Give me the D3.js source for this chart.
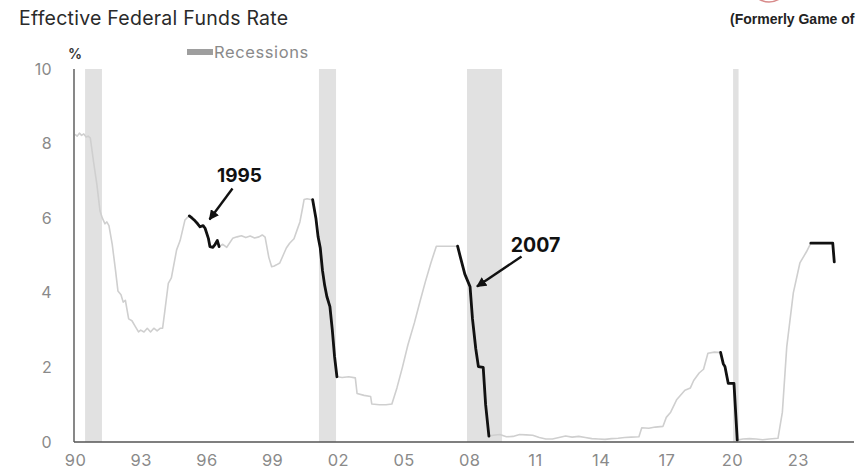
<!DOCTYPE html>
<html>
<head>
<meta charset="utf-8">
<script src="https://cdn.jsdelivr.net/npm/d3@7"></script>
<style>
  html, body { margin: 0; padding: 0; background: #fff; }
  svg { display: block; font-family: Inter, "Open Sans", sans-serif; }
</style>
</head>
<body>
<svg id="chart" width="857" height="471"></svg>
<script>
// effective fed funds rate (decimal year, %)
const rateDates = [
  1990.00, 1990.10, 1990.20, 1990.30, 1990.40, 1990.50, 1990.60, 1990.70, 1990.85, 1991.00,
  1991.14, 1991.25, 1991.37, 1991.45, 1991.55, 1991.70, 1991.85, 1991.96, 1992.10, 1992.20,
  1992.30, 1992.45, 1992.60, 1992.75, 1992.90, 1993.00, 1993.15, 1993.30, 1993.45, 1993.60,
  1993.75, 1993.90, 1994.00, 1994.10, 1994.26, 1994.40, 1994.64, 1994.80, 1995.02, 1995.10,
  1995.22, 1995.35, 1995.48, 1995.60, 1995.71, 1995.85, 1995.94, 1996.09, 1996.16, 1996.30,
  1996.40, 1996.50, 1996.58, 1996.75, 1996.93, 1997.20, 1997.40, 1997.60, 1997.80, 1998.00,
  1998.20, 1998.40, 1998.55, 1998.68, 1998.85, 1998.98, 1999.10, 1999.20, 1999.35, 1999.50,
  1999.65, 1999.80, 2000.00, 2000.15, 2000.27, 2000.40, 2000.46, 2000.60, 2000.75, 2000.85,
  2001.00, 2001.10, 2001.20, 2001.30, 2001.40, 2001.50, 2001.64, 2001.75, 2001.85, 2001.96,
  2002.20, 2002.50, 2002.80, 2002.88, 2003.20, 2003.50, 2003.55, 2003.90, 2004.20, 2004.47,
  2004.70, 2004.95, 2005.20, 2005.50, 2005.75, 2006.00, 2006.25, 2006.50, 2006.80, 2007.10,
  2007.47, 2007.60, 2007.80, 2008.04, 2008.15, 2008.30, 2008.42, 2008.64, 2008.75, 2008.90,
  2009.10, 2009.40, 2009.70, 2010.00, 2010.30, 2010.60, 2010.90, 2011.20, 2011.50, 2011.80,
  2012.10, 2012.40, 2012.70, 2013.00, 2013.30, 2013.60, 2013.90, 2014.20, 2014.50, 2014.80,
  2015.10, 2015.40, 2015.75, 2015.88, 2016.20, 2016.50, 2016.85, 2017.00, 2017.20, 2017.47,
  2017.85, 2018.10, 2018.25, 2018.50, 2018.70, 2018.90, 2019.20, 2019.48, 2019.60, 2019.68,
  2019.83, 2020.09, 2020.24, 2020.50, 2020.80, 2021.10, 2021.40, 2021.70, 2022.10, 2022.30,
  2022.50, 2022.80, 2023.10, 2023.40, 2023.60, 2024.00, 2024.60, 2024.67
];
const rateValues = [
  8.25, 8.20, 8.28, 8.22, 8.26, 8.18, 8.20, 8.15, 7.50, 6.90,
  6.20, 6.00, 5.85, 5.90, 5.80, 5.30, 4.60, 4.05, 3.95, 3.75,
  3.80, 3.30, 3.25, 3.10, 2.95, 3.00, 2.95, 3.05, 2.95, 3.05,
  2.98, 3.05, 3.05, 3.50, 4.25, 4.40, 5.15, 5.40, 5.95, 6.00,
  6.06, 6.00, 5.93, 5.85, 5.77, 5.80, 5.73, 5.46, 5.24, 5.22,
  5.30, 5.40, 5.24, 5.30, 5.22, 5.46, 5.50, 5.53, 5.48, 5.52,
  5.47, 5.50, 5.55, 5.49, 4.95, 4.70, 4.72, 4.75, 4.80, 5.00,
  5.20, 5.33, 5.45, 5.70, 5.90, 6.30, 6.50, 6.52, 6.50, 6.50,
  6.00, 5.50, 5.20, 4.60, 4.20, 3.90, 3.63, 3.00, 2.30, 1.75,
  1.73, 1.75, 1.72, 1.30, 1.25, 1.22, 1.02, 1.00, 1.00, 1.02,
  1.45, 2.00, 2.60, 3.20, 3.76, 4.30, 4.80, 5.25, 5.25, 5.25,
  5.25, 4.95, 4.50, 4.16, 3.30, 2.50, 2.02, 2.00, 1.00, 0.16,
  0.18, 0.20, 0.14, 0.15, 0.20, 0.19, 0.18, 0.12, 0.08, 0.08,
  0.12, 0.16, 0.13, 0.15, 0.12, 0.09, 0.08, 0.07, 0.09, 0.10,
  0.12, 0.13, 0.14, 0.38, 0.37, 0.40, 0.42, 0.66, 0.80, 1.13,
  1.39, 1.45, 1.65, 1.85, 1.95, 2.38, 2.41, 2.40, 2.10, 2.02,
  1.57, 1.57, 0.05, 0.08, 0.09, 0.08, 0.06, 0.08, 0.10, 0.80,
  2.55, 4.00, 4.80, 5.10, 5.33, 5.33, 5.33, 4.83
];

// easing cycles drawn in black
const cutStart = [1995.22, 2000.85, 2007.47, 2019.48, 2023.60];
const cutEnd   = [1996.58, 2001.96, 2008.90, 2020.24, 2024.67];

// recessions (shaded)
const recessionStart = [1990.46, 2001.14, 2007.90, 2020.05];
const recessionEnd   = [1991.23, 2001.92, 2009.50, 2020.30];

const xTickYears = [1990, 1993, 1996, 1999, 2002, 2005, 2008, 2011, 2014, 2017, 2020, 2023];
const yTicks = [0, 2, 4, 6, 8, 10];

const annoLabels = ['1995', '2007'];

const svg = d3.select('#chart');

const x = d3.scaleLinear().domain([1990, 2025]).range([75, 841.5]);
const y = d3.scaleLinear().domain([0, 10]).range([442, 69]);

const series = rateDates.map((d, i) => ({ t: d, v: rateValues[i] }));

// recession bars
svg.append('g').selectAll('rect')
  .data(recessionStart.map((s, i) => [s, recessionEnd[i]]))
  .enter().append('rect')
  .attr('x', d => x(d[0]))
  .attr('width', d => x(d[1]) - x(d[0]))
  .attr('y', y(10))
  .attr('height', y(0) - y(10))
  .attr('fill', '#e1e1e1');

const line = d3.line().x(d => x(d.t)).y(d => y(d.v));

svg.append('path')
  .datum(series)
  .attr('d', line)
  .attr('fill', 'none')
  .attr('stroke', '#cfcfcf')
  .attr('stroke-width', 1.6)
  .attr('stroke-linejoin', 'round');

cutStart.forEach((s, i) => {
  const seg = series.filter(d => d.t >= s - 1e-6 && d.t <= cutEnd[i] + 1e-6);
  svg.append('path')
    .datum(seg)
    .attr('d', line)
    .attr('fill', 'none')
    .attr('stroke', '#111')
    .attr('stroke-width', 2.8)
    .attr('stroke-linejoin', 'round')
    .attr('stroke-linecap', 'round');
});

// axes
const xAxis = svg.append('g')
  .attr('transform', `translate(0,${y(0)})`)
  .call(d3.axisBottom(x).tickValues(xTickYears).tickSize(0).tickPadding(12)
    .tickFormat(d => String(d).slice(2)));
xAxis.select('.domain').remove();
xAxis.selectAll('text')
  .attr('font-family', 'Inter, sans-serif')
  .attr('font-size', 16.5)
  .attr('letter-spacing', 0.4)
  .attr('fill', '#8a8a8a');

const yAxis = svg.append('g')
  .attr('transform', 'translate(52,0)')
  .call(d3.axisLeft(y).tickValues(yTicks).tickSize(0).tickPadding(0));
yAxis.select('.domain').remove();
yAxis.selectAll('text')
  .attr('font-family', 'Inter, sans-serif')
  .attr('font-size', 16)
  .attr('letter-spacing', 0.3)
  .attr('fill', '#8a8a8a');

svg.append('line')
  .attr('x1', 74).attr('x2', 854)
  .attr('y1', y(0)).attr('y2', y(0))
  .attr('stroke', '#555').attr('stroke-width', 1.4);
svg.append('line')
  .attr('x1', 74).attr('x2', 74)
  .attr('y1', y(10)).attr('y2', y(0))
  .attr('stroke', '#555').attr('stroke-width', 1.4);

// title and labels
svg.append('text')
  .attr('x', 19).attr('y', 25)
  .attr('font-size', 19.5)
  .attr('letter-spacing', 0.25)
  .attr('fill', '#2a2a2a')
  .text('Effective Federal Funds Rate');

svg.append('text')
  .attr('x', 75).attr('y', 59)
  .attr('text-anchor', 'middle')
  .attr('font-size', 14)
  .attr('font-weight', 600)
  .attr('fill', '#333')
  .text('%');

svg.append('rect')
  .attr('x', 187).attr('y', 49).attr('width', 26).attr('height', 6)
  .attr('fill', '#9e9e9e');
svg.append('text')
  .attr('x', 214).attr('y', 57.5)
  .attr('font-size', 16.5)
  .attr('letter-spacing', 0.6)
  .attr('fill', '#8a8a8a')
  .text('Recessions');

// cropped logo in the corner
svg.append('path')
  .attr('d', 'M757,-2 Q769,6 781,-2')
  .attr('fill', 'none')
  .attr('stroke', '#d88a8a')
  .attr('stroke-width', 1.5);
svg.append('text')
  .attr('x', 730).attr('y', 24)
  .attr('font-family', '"Liberation Sans", Arial, sans-serif')
  .attr('font-size', 14)
  .attr('font-weight', 700)
  .attr('fill', '#222')
  .text('(Formerly Game of');

// annotations
svg.append('defs').append('marker')
  .attr('id', 'arrow')
  .attr('viewBox', '0 0 10 10')
  .attr('refX', 9).attr('refY', 5)
  .attr('markerWidth', 4.2).attr('markerHeight', 4.2)
  .attr('markerUnits', 'strokeWidth')
  .attr('orient', 'auto')
  .append('path')
  .attr('d', 'M0,0 L10,5 L0,10 z')
  .attr('fill', '#111');

const annos = [
  { label: annoLabels[0], tx: 239.5, ty: 181.5, size: 19, x1: 232.5, y1: 188.5, x2: 209.5, y2: 219.5 },
  { label: annoLabels[1], tx: 535.5, ty: 251.5, size: 19.5, x1: 521.5, y1: 256.5, x2: 477, y2: 286.5 }
];

annos.forEach(a => {
  svg.append('text')
    .attr('x', a.tx).attr('y', a.ty)
    .attr('text-anchor', 'middle')
    .attr('font-size', a.size)
    .attr('font-weight', 700)
    .attr('fill', '#111')
    .text(a.label);
  svg.append('line')
    .attr('x1', a.x1).attr('y1', a.y1)
    .attr('x2', a.x2).attr('y2', a.y2)
    .attr('stroke', '#111')
    .attr('stroke-width', 2.4)
    .attr('marker-end', 'url(#arrow)');
});
</script>
</body>
</html>
